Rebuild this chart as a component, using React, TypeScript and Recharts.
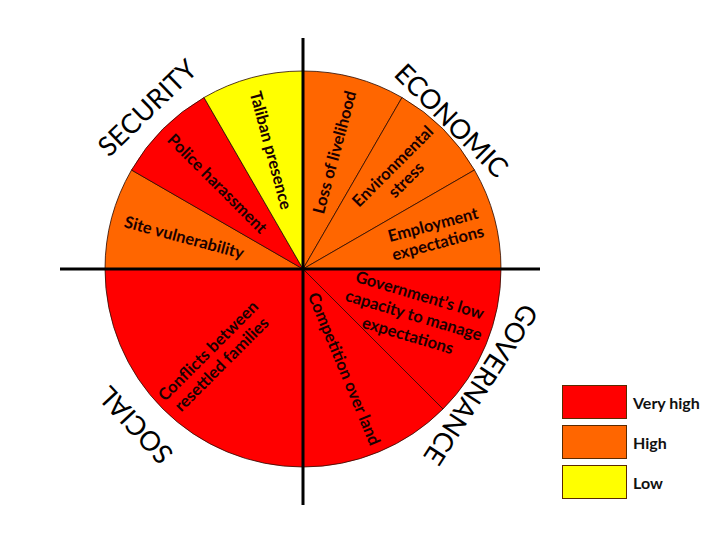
import { PieChart, Pie, Cell, Legend } from 'recharts';

// slices clockwise from 12 o'clock
const categories = [
  'Loss of livelihood',
  'Environmental\nstress',
  'Employment\nexpectations',
  'Government\u2019s low\ncapacity to manage\nexpectations',
  'Competition over land',
  'Conflicts between\nresettled families',
  'Site vulnerability',
  'Police harassment',
  'Taliban presence',
];
const spans = [30, 30, 30, 45, 45, 90, 30, 30, 30];
const levels = ['High', 'High', 'High', 'Very high', 'Very high', 'Very high', 'High', 'Very high', 'Low'];

const levelNames = ['Very high', 'High', 'Low'];
const levelColors = ['#FF0000', '#FF6600', '#FFFF00'];

const quadrants = ['ECONOMIC', 'GOVERNANCE', 'SOCIAL', 'SECURITY'];
const quadrantAngles = [45, -33, -137, 134];
const quadrantRadii = [211, 213, 230, 225];

// label distance from centre, per slice (px)
const labelRadii = [121, 136, 137, 120, 108, 125, 123, 121, 123];

const data = categories.map((name, i) => ({ name, value: spans[i], level: levels[i] }));

const CX = 303;
const CY = 269;
const R = 198;
const FONT = 'Lato, "Open Sans", sans-serif';

const colorOf = (level: string) => levelColors[levelNames.indexOf(level)];

const renderLabel = (props: any) => {
  const { cx, cy, midAngle, index } = props;
  const lines = categories[index].split('\n');
  const r = labelRadii[index];
  const rad = (midAngle * Math.PI) / 180;
  const x = cx + r * Math.cos(rad);
  const y = cy - r * Math.sin(rad);
  let rot = Math.cos(rad) >= -1e-6 ? -midAngle : 180 - midAngle;
  if (lines.length === 3) rot -= 6;
  const lh = lines.length === 3 ? 21 : 19;
  return (
    <text
      transform={`translate(${x},${y}) rotate(${rot})`}
      textAnchor="middle"
      dominantBaseline="central"
      fontFamily={FONT}
      fontWeight={700}
      fontSize={16.5}
      fill="#1a0000"
    >
      {lines.map((l, i) => (
        <tspan key={i} x={0} y={(i - (lines.length - 1) / 2) * lh}>
          {l}
        </tspan>
      ))}
    </text>
  );
};

const Overlay = () => (
  <svg
    width={720}
    height={540}
    style={{ position: 'absolute', left: 0, top: 0, pointerEvents: 'none' }}
  >
    <line x1={60} y1={CY} x2={540} y2={CY} stroke="#000" strokeWidth={3} />
    <line x1={CX} y1={38} x2={CX} y2={505} stroke="#000" strokeWidth={3} />
    {quadrants.map((q, i) => {
      const rad = (quadrantAngles[i] * Math.PI) / 180;
      const x = CX + quadrantRadii[i] * Math.cos(rad);
      const y = CY - quadrantRadii[i] * Math.sin(rad);
      return (
        <text
          key={q}
          transform={`translate(${x},${y}) rotate(${90 - quadrantAngles[i]})`}
          textAnchor="middle"
          dominantBaseline="central"
          fontFamily={FONT}
          fontSize={27}
          fill="#000"
        >
          {q}
        </text>
      );
    })}
  </svg>
);

const LegendBox = () => (
  <div style={{ fontFamily: FONT }}>
    {levelNames.map((n, i) => (
      <div key={n} style={{ display: 'flex', alignItems: 'center', height: 34, marginBottom: 6 }}>
        <div
          style={{
            width: 65,
            height: 34,
            background: levelColors[i],
            border: '1px solid #5a2a00',
            boxSizing: 'border-box',
          }}
        />
        <span style={{ marginLeft: 6, fontWeight: 700, fontSize: 16, color: '#111' }}>{n}</span>
      </div>
    ))}
  </div>
);

export default function App() {
  return (
    <div style={{ position: 'absolute', left: 0, top: 0, width: 720, height: 540, background: '#fff' }}>
      <PieChart width={720} height={540} margin={{ top: 0, right: 0, bottom: 0, left: 0 }}>
        <Pie
          data={data}
          dataKey="value"
          nameKey="name"
          cx={CX}
          cy={CY}
          outerRadius={R}
          startAngle={90}
          endAngle={-270}
          stroke="#2a0a00"
          strokeWidth={0.8}
          label={renderLabel}
          labelLine={false}
          isAnimationActive={false}
        >
          {data.map((d) => (
            <Cell key={d.name} fill={colorOf(d.level)} />
          ))}
        </Pie>
        <Legend
          content={LegendBox}
          wrapperStyle={{ position: 'absolute', left: 562, top: 385, width: 150 }}
        />
      </PieChart>
      <Overlay />
    </div>
  );
}
